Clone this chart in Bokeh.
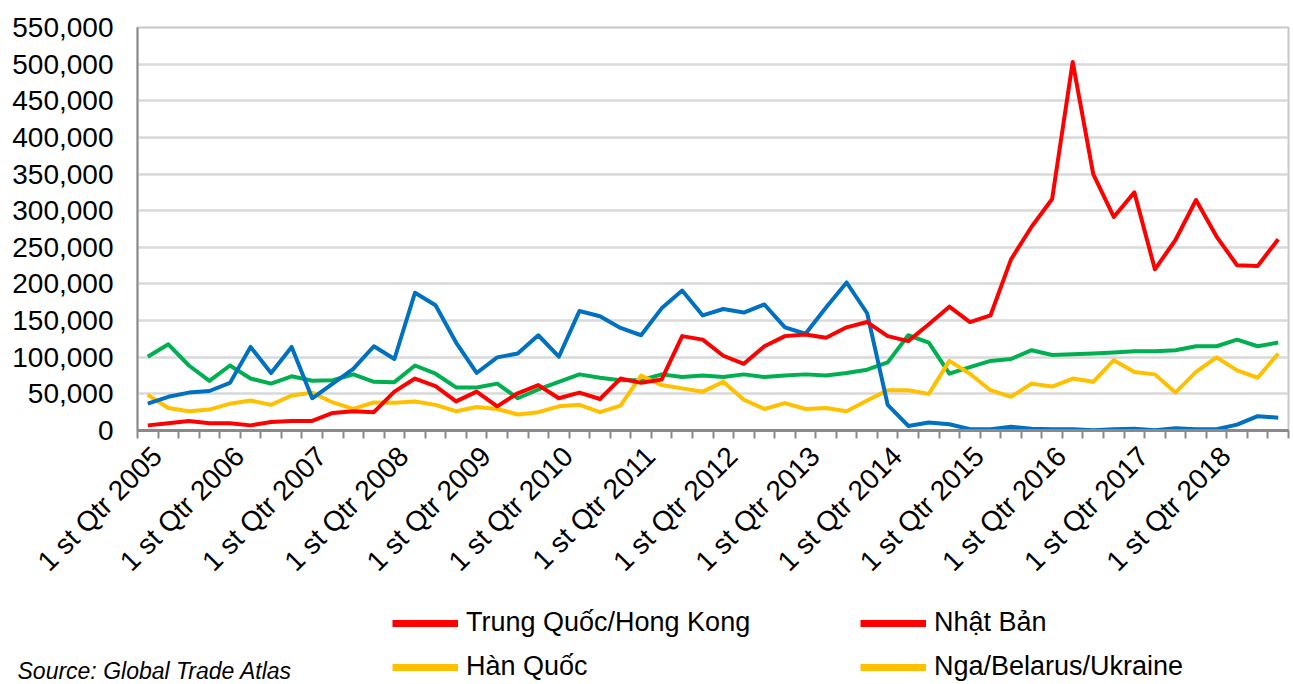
import math
from bokeh.plotting import figure
from bokeh.layouts import column
from bokeh.models import (FixedTicker, NumeralTickFormatter, Legend, LegendItem,
                          Label, Range1d)
from bokeh.embed import file_html
from bokeh.resources import INLINE

# ---------------- data ----------------
quarters = list(range(56))  # 1st Qtr 2005 ... 4th Qtr 2018
label_years = ["2005", "2006", "2007", "2008", "2009", "2010", "2011",
               "2012", "2013", "2014", "2015", "2016", "2017", "2018"]
label_positions = [0, 4, 8, 12, 16, 20, 24, 28, 32, 36, 40, 44, 48, 52]

trung_quoc_hk = [7000, 9800, 13000, 9800, 9800, 7000, 11600, 13000, 13000, 24000,
                 26300, 25000, 53000, 70900, 60600, 39700, 53000, 33000, 50800, 62000,
                 44000, 51700, 43000, 70900, 65000, 69500, 128800, 124000, 102000, 91000,
                 115000, 128800, 131000, 126600, 140800, 148000, 128800, 122000, 145000, 169000,
                 148000, 157000, 233500, 278000, 316000, 503000, 350000, 291500, 325000, 220000,
                 260000, 314600, 264700, 225500, 224600, 261000]
blue_series = [36600, 46000, 51700, 53900, 65000, 114000, 78500, 114000, 44000, 64000,
               84000, 115000, 97600, 188000, 171000, 120000, 78500, 99800, 105000, 130000,
               100700, 163000, 156000, 140000, 130000, 166700, 191000, 157000, 165800, 161000,
               172000, 140800, 132000, 168000, 202000, 160000, 35000, 6200, 11000, 8500,
               1800, 1800, 5000, 2500, 1800, 1800, 500, 1800, 2500, 500,
               3000, 1800, 1800, 8000, 19600, 17400]
green_series = [100700, 117600, 88700, 67700, 88700, 70900, 64000, 74000, 68000, 68600,
                76600, 66400, 66000, 88700, 77500, 58800, 58800, 64000, 44000, 56000,
                66400, 76600, 72000, 68600, 68600, 76600, 73000, 75000, 73000, 76600,
                73000, 75000, 76600, 75000, 78500, 83000, 93000, 130000, 120000, 77500,
                86500, 95000, 97600, 109600, 103000, 104000, 105000, 106500, 108000, 108000,
                109600, 115000, 115000, 124000, 115000, 120000]
yellow_series = [48600, 30700, 26300, 28500, 36600, 41000, 35000, 47700, 51700, 38300,
                 29400, 38300, 38000, 39700, 35000, 26300, 32000, 29400, 21800, 25000,
                 33000, 35000, 25000, 34000, 75000, 62000, 57500, 53000, 66400, 42000,
                 29400, 37400, 29400, 30700, 26300, 41000, 55000, 55000, 50000, 95000,
                 77500, 55000, 46000, 64000, 60000, 70900, 66400, 96000, 79800, 76600,
                 51700, 80000, 99800, 82000, 72000, 105000]

legend_labels = ["Trung Quốc/Hong Kong", "Nhật Bản", "Hàn Quốc", "Nga/Belarus/Ukraine"]
legend_colors = ["#FF0000", "#FF0000", "#FFC000", "#FFC000"]
source_text = "Source: Global Trade Atlas"

# ---------------- main chart ----------------
FONT = "Liberation Sans"
W = 1290
LEFT = 137
p = figure(width=W, height=590, output_backend="svg", toolbar_location=None,
           title=None,
           x_range=Range1d(-0.5, 55.5), y_range=Range1d(0, 550000),
           min_border_left=LEFT, min_border_right=2, min_border_top=27,
           min_border_bottom=152)
p.background_fill_color = "white"
p.border_fill_color = "white"
p.outline_line_color = "#c8c8c8"
p.outline_line_width = 2

colors = {"red": "#FF0000", "blue": "#0070C0", "green": "#00B050", "yellow": "#FFC000"}
series = [(green_series, colors["green"]), (yellow_series, colors["yellow"]),
          (blue_series, colors["blue"]), (trung_quoc_hk, colors["red"])]
for vals, c in series:
    p.line(quarters, vals, line_color=c, line_width=4, line_join="round")

# y axis
p.yaxis.ticker = FixedTicker(ticks=list(range(0, 550001, 50000)))
p.yaxis.formatter = NumeralTickFormatter(format="0,0")
p.yaxis.major_label_text_font = FONT
p.yaxis.major_label_text_font_size = "28px"
p.yaxis.major_label_text_color = "#000000"
p.yaxis.major_tick_out = 0
p.yaxis.major_tick_in = 0
p.yaxis.minor_tick_out = 0
p.yaxis.minor_tick_in = 0
p.yaxis.major_label_standoff = 24
p.yaxis.axis_line_color = "#8a8a8a"
p.yaxis.axis_line_width = 2

# x axis: tick marks between quarters, a label for the 1st quarter of each year
label_ticks = [pos + 0.45 for pos in label_positions]
p.xaxis.ticker = FixedTicker(ticks=label_ticks,
                             minor_ticks=[q - 0.5 for q in quarters] + [55.5])
p.xaxis.major_label_overrides = {t: "1 st Qtr " + yr for t, yr in zip(label_ticks, label_years)}
p.xaxis.major_label_orientation = math.pi / 4
p.xaxis.major_label_text_font = FONT
p.xaxis.major_label_text_font_size = "28px"
p.xaxis.major_label_text_color = "#000000"
p.xaxis.major_tick_out = 0
p.xaxis.major_tick_in = 0
p.xaxis.minor_tick_out = 8
p.xaxis.minor_tick_in = 0
p.xaxis.minor_tick_line_color = "#8a8a8a"
p.xaxis.minor_tick_line_width = 2
p.xaxis.major_label_standoff = 13
p.xaxis.axis_line_color = "#8a8a8a"
p.xaxis.axis_line_width = 3

p.xgrid.grid_line_color = None
p.ygrid.ticker = FixedTicker(ticks=list(range(0, 550001, 50000)))
p.ygrid.grid_line_color = "#d9d9d9"
p.ygrid.grid_line_width = 2.5

# ---------------- legend / source strip ----------------
q = figure(width=W, height=92, output_backend="svg", toolbar_location=None,
           title=None, x_axis_type=None, y_axis_type=None,
           x_range=Range1d(0, 1), y_range=Range1d(0, 1),
           min_border_left=0, min_border_right=0, min_border_top=0, min_border_bottom=0)
q.outline_line_color = None
q.background_fill_color = "white"
q.border_fill_color = "white"
q.grid.visible = False

try:
    q.frame_align = False   # let this strip's frame cover its whole canvas
    off = 0
except Exception:
    off = LEFT

legend_pos = [(392 - off, 44), (860 - off, 44), (392 - off, 0), (860 - off, 0)]
for lab, col, loc in zip(legend_labels, legend_colors, legend_pos):
    # legend key renderer kept outside the visible range of this strip
    r = q.line([-5, -4], [-5, -4], line_color=col, line_width=7)
    lg = Legend(items=[LegendItem(label=lab, renderers=[r])], location=loc,
                padding=0, margin=0, spacing=0, border_line_color=None,
                background_fill_alpha=0, glyph_width=66, glyph_height=28,
                label_standoff=8, label_height=28,
                label_text_font=FONT, label_text_font_size="27px",
                label_text_color="#000000")
    q.add_layout(lg, "center")

src = Label(x=17 - off, y=12, x_units="screen", y_units="screen", text=source_text,
            text_font=FONT, text_font_style="italic", text_font_size="23px",
            text_baseline="middle", text_align="left", text_color="#000000")
q.add_layout(src)

layout = column(p, q, spacing=0)
open("out.html", "w").write(file_html(layout, INLINE))
